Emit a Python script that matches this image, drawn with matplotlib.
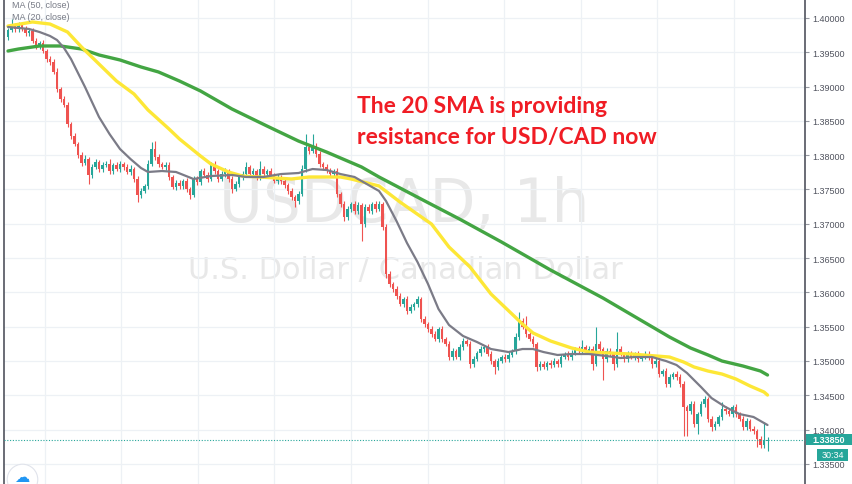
import numpy as np
import matplotlib.pyplot as plt
from matplotlib.transforms import blended_transform_factory
from matplotlib.patches import Rectangle

# USD/CAD 1h candles (open of each candle = previous close)
first_open = 1.39723
closes = [
    1.39825, 1.39883, 1.39840, 1.39898, 1.39840, 1.39781, 1.39810, 1.39665, 1.39592, 1.39635,
    1.39519, 1.39402, 1.39358, 1.39213, 1.38965, 1.38819, 1.38732, 1.38454, 1.38280, 1.38163,
    1.38003, 1.37886, 1.37944, 1.37711, 1.37828, 1.37900, 1.37798, 1.37857, 1.37871, 1.37769,
    1.37857, 1.37798, 1.37871, 1.37828, 1.37755, 1.37798, 1.37653, 1.37419, 1.37478, 1.37551,
    1.37871, 1.38090, 1.37973, 1.37871, 1.37828, 1.37857, 1.37682, 1.37536, 1.37594, 1.37551,
    1.37623, 1.37507, 1.37419, 1.37653, 1.37609, 1.37769, 1.37711, 1.37653, 1.37871, 1.37769,
    1.37653, 1.37725, 1.37769, 1.37653, 1.37507, 1.37580, 1.37682, 1.37725, 1.37828, 1.37725,
    1.37769, 1.37682, 1.37798, 1.37725, 1.37769, 1.37711, 1.37623, 1.37682, 1.37623, 1.37565,
    1.37478, 1.37390, 1.37332, 1.37434, 1.37798, 1.38119, 1.38061, 1.38134, 1.38017, 1.37871,
    1.37828, 1.37769, 1.37725, 1.37769, 1.37434, 1.37288, 1.37099, 1.37215, 1.37288, 1.37186,
    1.37274, 1.36996, 1.37244, 1.37186, 1.37288, 1.37215, 1.37288, 1.36953, 1.36267, 1.36122,
    1.36049, 1.35947, 1.35830, 1.35903, 1.35728, 1.35786, 1.35830, 1.35903, 1.35611, 1.35538,
    1.35466, 1.35393, 1.35320, 1.35466, 1.35320, 1.35247, 1.35057, 1.35145, 1.35057, 1.35203,
    1.35291, 1.35247, 1.34955, 1.35028, 1.35116, 1.35174, 1.35203, 1.35101, 1.34999, 1.34912,
    1.34999, 1.35057, 1.35028, 1.35087, 1.35145, 1.35349, 1.35582, 1.35495, 1.35393, 1.35320,
    1.35247, 1.34912, 1.34955, 1.34912, 1.34970, 1.34941, 1.34999, 1.34955, 1.35057, 1.35101,
    1.35057, 1.35116, 1.35174, 1.35145, 1.35203, 1.35145, 1.35174, 1.34955, 1.35247, 1.35174,
    1.35028, 1.35145, 1.35101, 1.34955, 1.35174, 1.35101, 1.35028, 1.35101, 1.35057, 1.35101,
    1.35028, 1.35072, 1.35101, 1.35057, 1.34955, 1.34999, 1.34809, 1.34853, 1.34664, 1.34766,
    1.34809, 1.34766, 1.34664, 1.34328, 1.34270, 1.34372, 1.34080, 1.34226, 1.34372, 1.34445,
    1.34153, 1.34037, 1.34080, 1.34183, 1.34299, 1.34270, 1.34226, 1.34328, 1.34226, 1.34153,
    1.34037, 1.34124, 1.34008, 1.33978, 1.33862, 1.33774, 1.33833, 1.33850,
]
# wick lengths in pips above / below the candle body
upper_wick = [
    3, 10, 4, 5, 3, 4, 3, 5, 4, 3,
    4, 3, 5, 4, 6, 3, 4, 5, 3, 4,
    3, 4, 6, 3, 5, 4, 3, 5, 4, 8,
    3, 4, 5, 3, 4, 6, 3, 4, 5, 3,
    6, 10, 12, 4, 3, 5, 4, 3, 5, 4,
    3, 4, 3, 5, 4, 3, 5, 4, 3, 4,
    3, 5, 4, 3, 4, 5, 3, 4, 7, 3,
    4, 3, 12, 4, 3, 5, 3, 4, 3, 4,
    3, 4, 3, 5, 6, 19, 4, 17, 5, 4,
    3, 4, 5, 3, 4, 3, 5, 4, 3, 5,
    4, 3, 5, 4, 3, 4, 5, 3, 4, 5,
    3, 4, 5, 3, 4, 5, 3, 4, 3, 4,
    3, 5, 4, 3, 4, 3, 5, 4, 3, 4,
    5, 3, 4, 5, 3, 4, 3, 5, 4, 3,
    4, 3, 5, 4, 3, 6, 13, 4, 16, 3,
    4, 3, 5, 4, 3, 4, 5, 3, 4, 3,
    5, 4, 3, 4, 10, 3, 4, 5, 25, 4,
    3, 5, 4, 3, 25, 4, 3, 5, 4, 3,
    4, 3, 5, 4, 3, 4, 5, 3, 4, 5,
    3, 4, 5, 4, 3, 5, 4, 3, 5, 4,
    3, 5, 4, 3, 10, 4, 5, 3, 4, 3,
    5, 4, 3, 4, 3, 5, 28, 4,
]
lower_wick = [
    4, 3, 5, 4, 3, 5, 4, 3, 5, 4,
    3, 5, 4, 3, 5, 4, 3, 5, 4, 3,
    4, 5, 3, 13, 4, 3, 5, 4, 3, 4,
    5, 3, 4, 5, 3, 4, 5, 10, 4, 3,
    4, 3, 5, 4, 3, 5, 4, 3, 5, 4,
    5, 4, 6, 3, 4, 5, 3, 4, 3, 5,
    4, 3, 5, 4, 6, 3, 4, 5, 3, 4,
    3, 5, 4, 3, 4, 5, 3, 4, 5, 4,
    5, 4, 9, 4, 3, 4, 5, 3, 4, 5,
    4, 3, 5, 4, 5, 4, 6, 4, 5, 4,
    5, 25, 4, 3, 5, 4, 3, 5, 6, 4,
    5, 4, 3, 5, 4, 3, 5, 4, 5, 4,
    5, 4, 3, 5, 4, 3, 5, 4, 3, 5,
    4, 3, 6, 4, 3, 5, 4, 3, 5, 10,
    4, 3, 5, 4, 3, 5, 4, 3, 4, 3,
    5, 6, 4, 3, 5, 4, 3, 5, 4, 3,
    4, 5, 3, 4, 3, 5, 4, 8, 3, 4,
    30, 4, 3, 8, 4, 3, 5, 4, 3, 5,
    4, 3, 5, 4, 6, 4, 5, 3, 5, 4,
    3, 5, 4, 42, 36, 5, 4, 15, 3, 4,
    5, 6, 4, 3, 5, 4, 3, 5, 4, 3,
    4, 5, 3, 4, 12, 4, 5, 15,
]

# moving averages (candle index, price)
sma20_idx = [0, 6, 9, 12, 14, 16, 18, 20, 22, 24, 26, 29, 32, 35, 38, 40, 44, 48, 53, 58,
             64, 68, 73, 78, 83, 87, 91, 95, 99, 103, 106, 108, 111, 114, 117, 120, 123, 126, 130, 134,
             138, 143, 147, 150, 153, 157, 161, 166, 171, 175, 179, 184, 188, 191, 194, 198, 201, 205, 209, 213,
             217]
sma20 = [1.39869, 1.39840, 1.39796, 1.39738, 1.39679, 1.39563, 1.39402, 1.39198, 1.38994, 1.38775,
         1.38557, 1.38309, 1.38090, 1.37944, 1.37813, 1.37755, 1.37769, 1.37755, 1.37653, 1.37696,
         1.37711, 1.37682, 1.37682, 1.37725, 1.37740, 1.37798, 1.37784, 1.37725, 1.37682, 1.37565,
         1.37478, 1.37332, 1.37040, 1.36719, 1.36442, 1.36122, 1.35757, 1.35524, 1.35364, 1.35276,
         1.35174, 1.35130, 1.35174, 1.35174, 1.35130, 1.35087, 1.35101, 1.35101, 1.35072, 1.35043,
         1.35057, 1.35057, 1.34999, 1.34941, 1.34824, 1.34620, 1.34459, 1.34328, 1.34226, 1.34183,
         1.34066]
sma50_idx = [0, 7, 12, 17, 21, 26, 31, 36, 40, 46, 49, 55, 58, 63, 67, 72, 81, 86, 95, 98,
             106, 112, 121, 126, 132, 138, 141, 144, 147, 150, 155, 161, 166, 178, 189, 193, 196, 200, 204, 208,
             212, 216, 217]
sma50 = [1.39883, 1.39942, 1.39912, 1.39796, 1.39577, 1.39329, 1.39081, 1.38892, 1.38659, 1.38382,
         1.38236, 1.37988, 1.37871, 1.37755, 1.37696, 1.37682, 1.37653, 1.37682, 1.37682, 1.37653,
         1.37551, 1.37317, 1.36996, 1.36661, 1.36370, 1.35976, 1.35830, 1.35684, 1.35538, 1.35408,
         1.35291, 1.35189, 1.35130, 1.35101, 1.35057, 1.34985, 1.34912, 1.34853, 1.34809, 1.34736,
         1.34635, 1.34547, 1.34503]
sma100_idx = [0, 3, 9, 15, 21, 26, 32, 38, 43, 49, 55, 64, 74, 83, 91, 101, 106, 118, 129, 141,
              155, 170, 189, 195, 200, 204, 210, 215, 217]
sma100 = [1.39519, 1.39548, 1.39592, 1.39592, 1.39548, 1.39461, 1.39388, 1.39286, 1.39213, 1.39081,
          1.38936, 1.38673, 1.38425, 1.38206, 1.38046, 1.37828, 1.37682, 1.37361, 1.37069, 1.36734,
          1.36326, 1.35917, 1.35349, 1.35189, 1.35087, 1.34999, 1.34926, 1.34853, 1.34795]

price_ticks = [1.335, 1.340, 1.345, 1.350, 1.355, 1.360, 1.365, 1.370,
               1.375, 1.380, 1.385, 1.390, 1.395, 1.400]
legend_labels = ['MA (50, close)', 'MA (20, close)']
last_price = 1.33850
countdown = '30:34'
symbol_title = 'USDCAD, 1h'
symbol_name = 'U.S. Dollar / Canadian Dollar'
note = 'The 20 SMA is providing\nresistance for USD/CAD now'

UP = '#26a69a'
DOWN = '#ef5350'
pip = 0.0001

closes = np.array(closes)
opens = np.concatenate([[first_open], closes[:-1]])
highs = np.maximum(opens, closes) + np.array(upper_wick) * pip
lows = np.minimum(opens, closes) - np.array(lower_wick) * pip
x = np.arange(len(closes))
colors = np.where(closes >= opens, UP, DOWN)

fig = plt.figure(figsize=(8.52, 4.85), dpi=100)
ax = fig.add_axes([4 / 852, 0, 801 / 852, 1])
ax.set_xlim(-1.143, 227.71)
ax.set_ylim(1.33206, 1.40277)

# watermark behind everything
ax.text(0.474, 0.577, symbol_title, transform=fig.transFigure, ha='center', va='center',
        fontsize=43, color='#e8e8e8', zorder=0.5)
ax.text(0.476, 0.443, symbol_name, transform=fig.transFigure, ha='center', va='center',
        fontsize=22, color='#e8e8e8', zorder=0.5)

# candles
ax.vlines(x, lows, highs, colors=colors, linewidth=0.8, zorder=2)
body = np.maximum(np.abs(closes - opens), 0.00003)
ax.bar(x, body, bottom=np.minimum(opens, closes), width=0.72, color=colors,
       linewidth=0, zorder=3)

# moving averages
ax.plot(sma100_idx, sma100, color='#43a543', lw=2.4, zorder=4, solid_capstyle='round')
ax.plot(sma50_idx, sma50, color='#fde736', lw=2.4, zorder=4, solid_capstyle='round')
ax.plot(sma20_idx, sma20, color='#7b7b87', lw=1.6, zorder=5, solid_capstyle='round')

# last price line
ax.axhline(last_price, color=UP, lw=0.8, ls=(0, (1, 1.5)), zorder=6)

# grid and axes
ax.set_yticks(price_ticks)
ax.set_yticklabels([f'{t:.5f}' for t in price_ticks])
ax.set_xticks(np.arange(10.57, 228, 21.857))
ax.set_xticklabels([])
ax.grid(True, color='#edf1f5', lw=0.9, zorder=0)
ax.set_axisbelow(True)
ax.yaxis.tick_right()
ax.tick_params(axis='y', length=3, color='#9598a1', labelsize=6.5, labelcolor='#50535e', pad=2)
ax.tick_params(axis='x', length=0)
for side in ['top', 'bottom']:
    ax.spines[side].set_visible(False)
for side in ['left', 'right']:
    ax.spines[side].set_color('#50535e')
    ax.spines[side].set_linewidth(1.2)
for lbl in ax.get_yticklabels():
    lbl.set_fontfamily('Liberation Sans')

# price and countdown tags on the scale
trans = blended_transform_factory(fig.transFigure, ax.transData)
tag_h = 0.0016
ax.add_patch(Rectangle((806 / 852, last_price - tag_h / 2), 46 / 852, tag_h, transform=trans,
                       facecolor=UP, edgecolor='none', clip_on=False, zorder=10))
ax.text(829 / 852, last_price, f'{last_price:.5f}', transform=trans, ha='center', va='center',
        fontsize=6.5, color='white', fontweight='bold', family='Liberation Sans',
        zorder=11, clip_on=False)
cd_y = last_price - 0.0022
ax.add_patch(Rectangle((817 / 852, cd_y - tag_h * 0.55), 31 / 852, tag_h * 1.1, transform=trans,
                       facecolor=UP, edgecolor='none', clip_on=False, zorder=10))
ax.text(832.5 / 852, cd_y, countdown, transform=trans, ha='center', va='center',
        fontsize=6.5, color='white', family='Liberation Sans', zorder=11, clip_on=False)

# indicator legend
for k, lab in enumerate(legend_labels):
    ax.text(12 / 852, 1 - (6 + 12 * k) / 485, lab, transform=fig.transFigure, ha='left',
            va='center', fontsize=6.5, color='#787b86', family='Liberation Sans', zorder=12)

# annotation
ax.text(357 / 852, 1 - 96 / 485, note, transform=fig.transFigure, ha='left', va='top',
        fontsize=16.5, color='#f01c24', family='Lato', fontweight='bold', linespacing=1.6,
        zorder=12)

# logo button bottom-left
ax.plot([22 / 852], [1 - 480 / 485], marker='o', ms=22, mfc='white', mec='#e0e3eb', mew=0.8,
        transform=fig.transFigure, clip_on=False, zorder=12)
ax.text(22 / 852, 1 - 478 / 485, '\u2601', transform=fig.transFigure, ha='center', va='center',
        fontsize=11, color='#2196f3', zorder=13, clip_on=False)

fig.savefig('out.png', dpi=100)
